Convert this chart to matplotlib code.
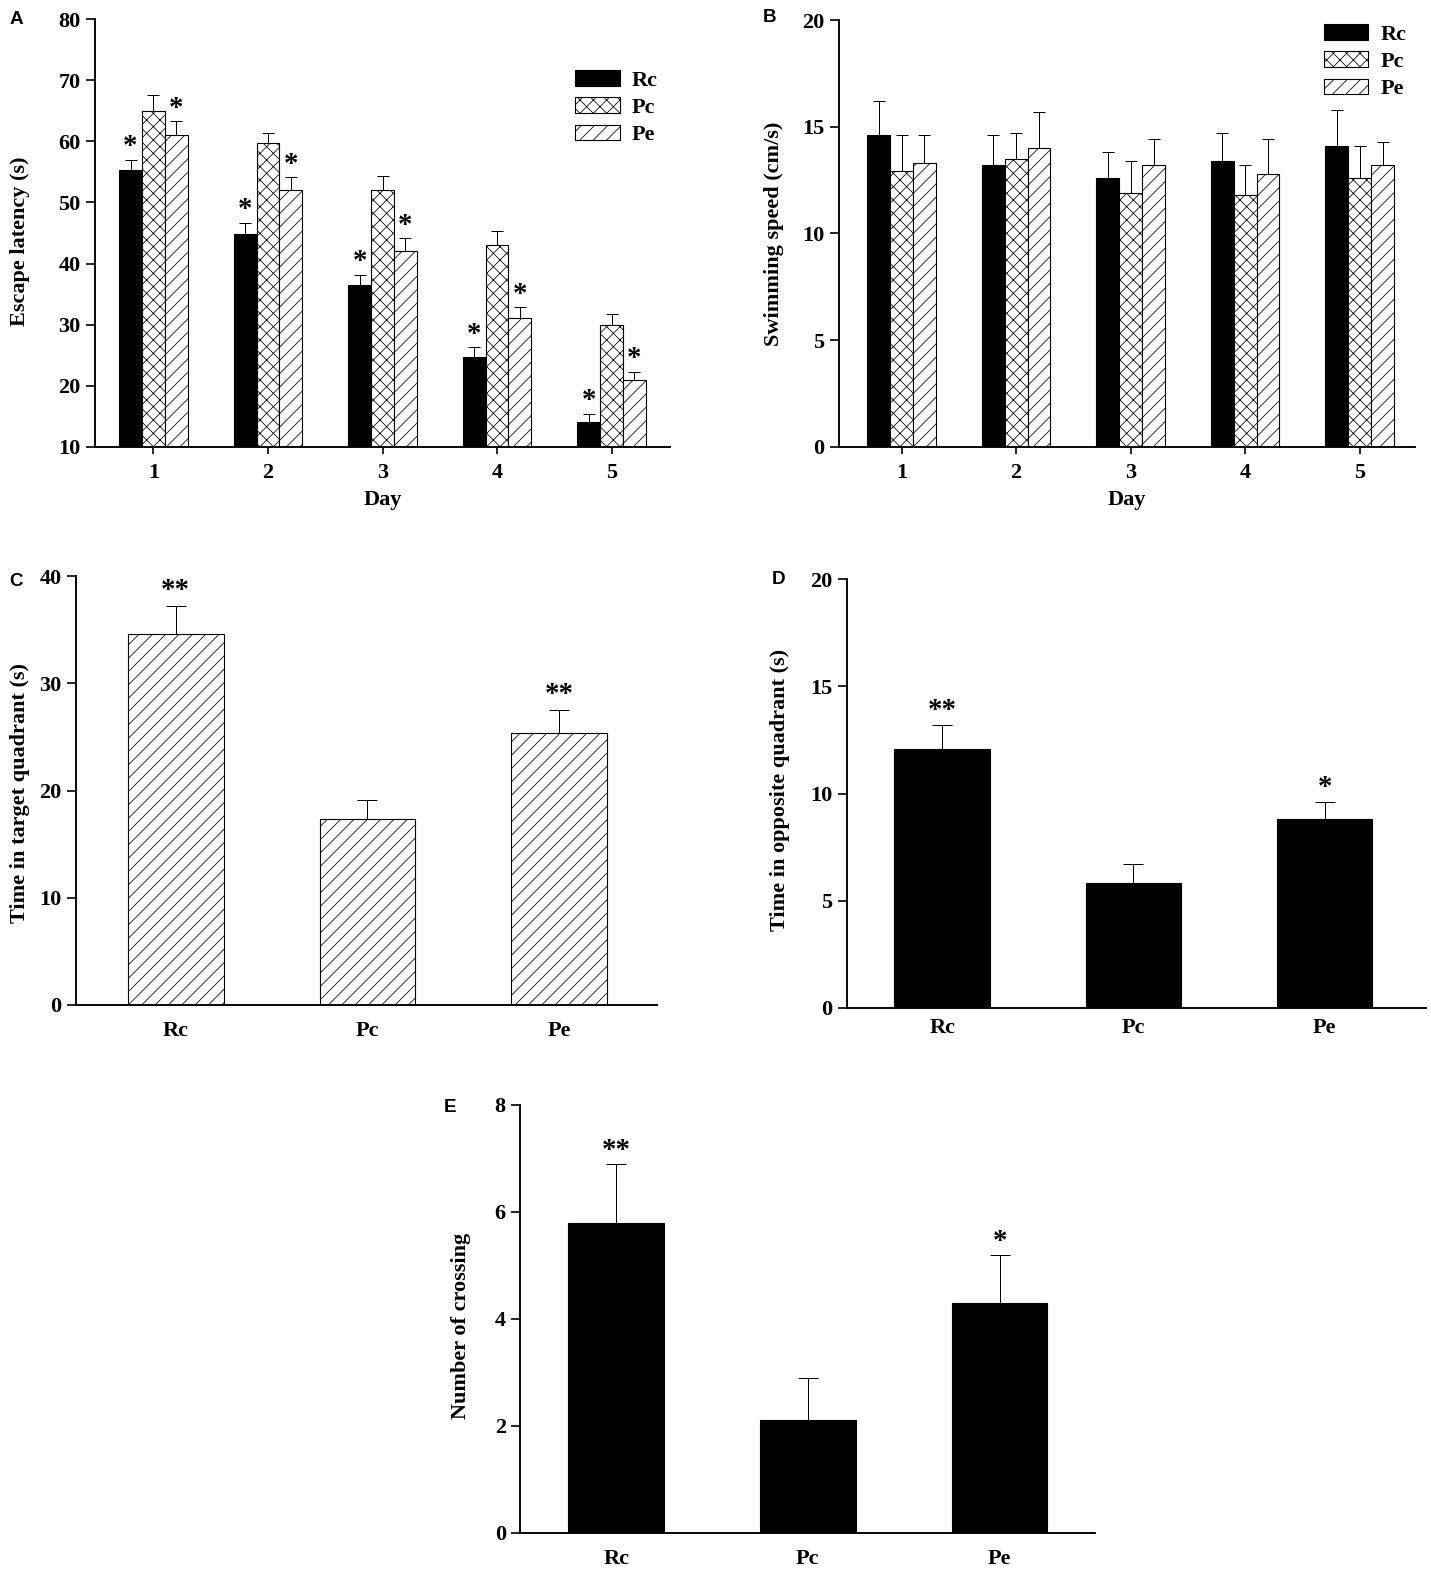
import numpy as np
import matplotlib
matplotlib.use("Agg")
from matplotlib import pyplot as plt
from matplotlib.patches import Patch

# Morris water maze data
days = [1, 2, 3, 4, 5]
groups = ["Rc", "Pc", "Pe"]

latency_rc = [55.3, 44.8, 36.5, 24.7, 14.0]
latency_rc_err = [1.7, 1.9, 1.7, 1.6, 1.4]
latency_pc = [65.0, 59.8, 52.0, 43.0, 30.0]
latency_pc_err = [2.6, 1.6, 2.3, 2.4, 1.7]
latency_pe = [61.0, 52.0, 42.0, 31.0, 21.0]
latency_pe_err = [2.3, 2.1, 2.1, 1.8, 1.3]

speed_rc = [14.6, 13.2, 12.6, 13.4, 14.1]
speed_rc_err = [1.6, 1.4, 1.2, 1.3, 1.7]
speed_pc = [12.9, 13.5, 11.9, 11.8, 12.6]
speed_pc_err = [1.7, 1.2, 1.5, 1.4, 1.5]
speed_pe = [13.3, 14.0, 13.2, 12.8, 13.2]
speed_pe_err = [1.3, 1.7, 1.2, 1.6, 1.1]

target_time = [34.6, 17.3, 25.4]
target_err = [2.6, 1.8, 2.1]
opposite_time = [12.1, 5.8, 8.8]
opposite_err = [1.1, 0.9, 0.8]
crossings = [5.8, 2.1, 4.3]
crossings_err = [1.1, 0.8, 0.9]

latency_marks = {"Rc": ["*"] * 5, "Pe": ["*"] * 5}
target_marks = ["**", "", "**"]
opposite_marks = ["**", "", "*"]
crossing_marks = ["**", "", "*"]

plt.rcParams["font.family"] = ["Liberation Serif", "DejaVu Serif"]
plt.rcParams["font.weight"] = "bold"
plt.rcParams["hatch.linewidth"] = 0.7

W, H, DPI = 1431, 1578, 80
TICK_FS = 20
LABEL_FS = 20
fig = plt.figure(figsize=(W / DPI, H / DPI), dpi=DPI)


def box(x0, x1, ytop, ybot):
    return [x0 / W, 1 - ybot / H, (x1 - x0) / W, (ybot - ytop) / H]


def style(ax, xticks_on=True, xpad=8):
    for s in ["top", "right"]:
        ax.spines[s].set_visible(False)
    for s in ["left", "bottom"]:
        ax.spines[s].set_linewidth(1.7)
    ax.tick_params(axis="y", direction="out", length=8, width=1.5, labelsize=TICK_FS, pad=5)
    if xticks_on:
        ax.tick_params(axis="x", direction="out", length=6, width=1.5, labelsize=TICK_FS, pad=xpad)
    else:
        ax.tick_params(axis="x", length=0, labelsize=TICK_FS, pad=xpad)


def stars(ax, xs, tops, marks, off):
    for x, t, m in zip(xs, tops, marks):
        if m:
            ax.annotate(m, (x, t), xytext=(0, off), textcoords="offset points",
                        ha="center", va="baseline", fontsize=26, fontweight="bold")


styles = {
    "Rc": dict(color="black", edgecolor="black"),
    "Pc": dict(color="white", edgecolor="black", hatch="xx"),
    "Pe": dict(color="white", edgecolor="black", hatch="//"),
}


def grouped(ax, series, errs, capsize):
    x = np.array(days)
    w = 0.2
    tops = {}
    for i, g in enumerate(groups):
        xs = x + (i - 1) * w
        ax.bar(xs, series[i], w, linewidth=1.0, **styles[g])
        ax.errorbar(xs, series[i], yerr=[np.zeros(len(days)), errs[i]], fmt="none",
                    ecolor="black", elinewidth=0.9, capsize=capsize, capthick=0.9)
        tops[g] = (xs, np.array(series[i]) + np.array(errs[i]))
    return tops


legend_kw = dict(loc="upper left", bbox_transform=fig.transFigure, frameon=False, borderpad=0,
                 fontsize=20, handlelength=2.0, handleheight=0.7, labelspacing=0.3,
                 handletextpad=0.55)

# A: escape latency
axA = fig.add_axes(box(95, 670, 19.3, 446.7))
topsA = grouped(axA, [latency_rc, latency_pc, latency_pe],
                [latency_rc_err, latency_pc_err, latency_pe_err], 5)
axA.set_xlim(0.49, 5.51)
axA.set_ylim(10, 80)
axA.set_yticks(range(10, 81, 10))
axA.set_xticks(days)
style(axA, xpad=9)
axA.set_xlabel("Day", fontsize=LABEL_FS, fontweight="bold", labelpad=6)
for g in ["Rc", "Pe"]:
    stars(axA, topsA[g][0], topsA[g][1], latency_marks[g], 5)
handles = [Patch(facecolor=styles[g]["color"], edgecolor="black", hatch=styles[g].get("hatch"), label=g)
           for g in groups]
axA.legend(handles=handles, bbox_to_anchor=(564 / W, 1 - 59 / H), **legend_kw)

# B: swimming speed
axB = fig.add_axes(box(838.6, 1414.6, 20, 446.7))
grouped(axB, [speed_rc, speed_pc, speed_pe], [speed_rc_err, speed_pc_err, speed_pe_err], 5)
axB.set_xlim(0.45, 5.48)
axB.set_ylim(0, 20)
axB.set_yticks(range(0, 21, 5))
axB.set_xticks(days)
style(axB, xpad=9)
axB.set_xlabel("Day", fontsize=LABEL_FS, fontweight="bold", labelpad=6)
axB.legend(handles=handles, bbox_to_anchor=(1312.8 / W, 1 - 13 / H), **legend_kw)


def single(ax, vals, errs, marks, off, **kw):
    xs = np.arange(len(groups))
    ax.bar(xs, vals, 0.5, linewidth=1.0, **kw)
    ax.errorbar(xs, vals, yerr=[np.zeros(len(vals)), errs], fmt="none",
                ecolor="black", elinewidth=0.9, capsize=9, capthick=0.9)
    ax.set_xticks(xs)
    ax.set_xticklabels(groups)
    stars(ax, xs, np.array(vals) + np.array(errs), marks, off)


# C: time in target quadrant
axC = fig.add_axes(box(76, 657, 576, 1005))
single(axC, target_time, target_err, target_marks, 7, **styles["Pe"])
axC.set_xlim(-0.52, 2.51)
axC.set_ylim(0, 40)
axC.set_yticks(range(0, 41, 10))
style(axC, xticks_on=False, xpad=14)

# D: time in opposite quadrant
axD = fig.add_axes(box(846.7, 1425.9, 579.3, 1007.7))
single(axD, opposite_time, opposite_err, opposite_marks, 6, **styles["Rc"])
axD.set_xlim(-0.5, 2.53)
axD.set_ylim(0, 20)
axD.set_yticks(range(0, 21, 5))
style(axD, xticks_on=False, xpad=9)

# E: number of crossings
axE = fig.add_axes(box(520.3, 1095.4, 1105, 1532.7))
single(axE, crossings, crossings_err, crossing_marks, 5, **styles["Rc"])
axE.set_xlim(-0.5, 2.5)
axE.set_ylim(0, 8)
axE.set_yticks(range(0, 9, 2))
style(axE, xticks_on=False, xpad=15)

# y labels and panel letters placed in figure pixels
ylabels = [("Escape latency (s)", 20, 241), ("Swimming speed (cm/s)", 774, 234),
           ("Time in target quadrant (s)", 20, 793), ("Time in opposite quadrant (s)", 780, 790),
           ("Number of crossing", 461, 1326)]
for txt, x, y in ylabels:
    fig.text(x / W, 1 - y / H, txt, rotation=90, ha="center", va="center",
             fontsize=LABEL_FS, fontweight="bold")

letters = [("A", 10, 19), ("B", 763, 17), ("C", 9, 582), ("D", 772, 580), ("E", 444, 1107)]
for txt, x, y in letters:
    fig.text(x / W, 1 - y / H, txt, ha="left", va="center", fontsize=17,
             fontweight="bold", family=["Liberation Sans", "DejaVu Sans"])

fig.savefig("out.png", dpi=DPI)
